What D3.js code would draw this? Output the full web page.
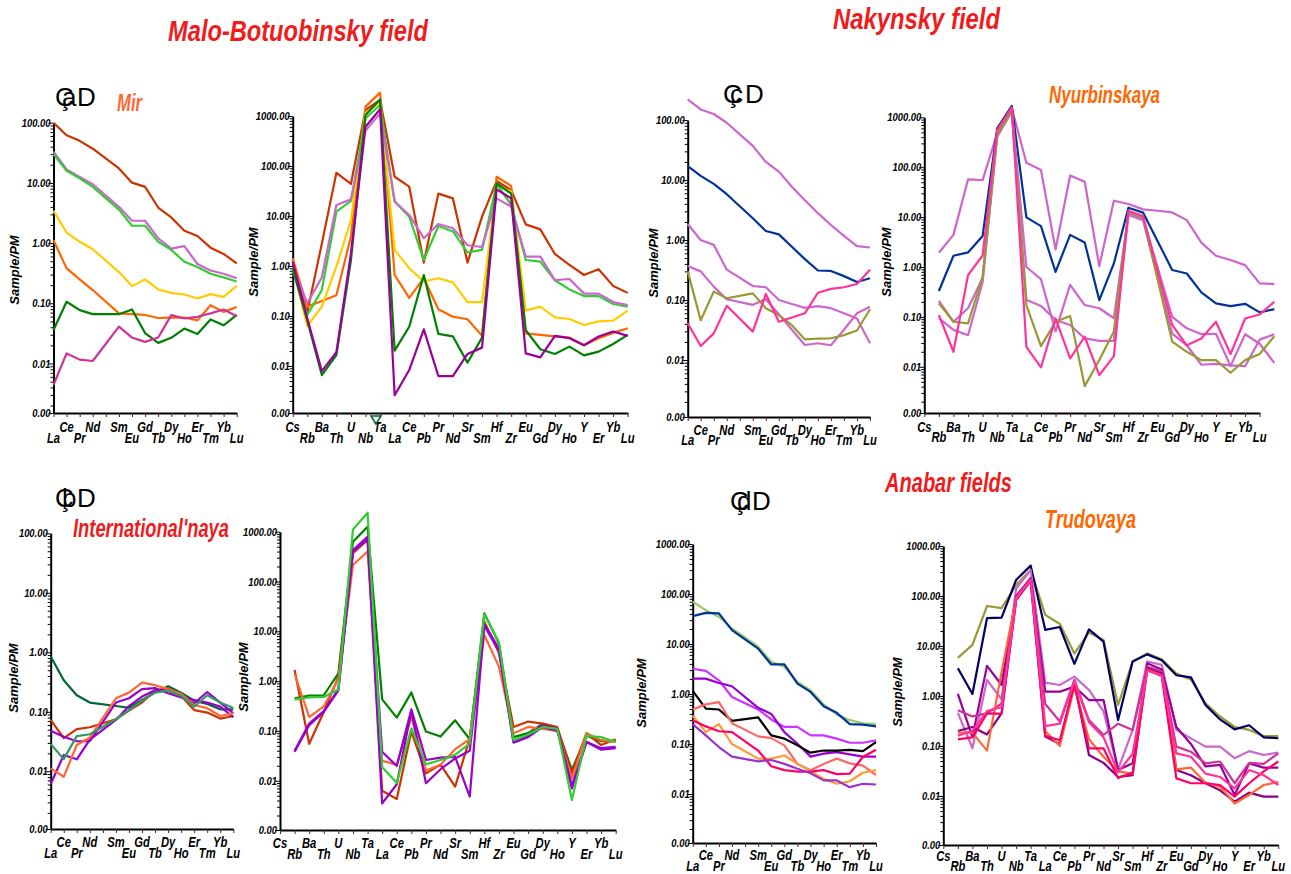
<!DOCTYPE html>
<html>
<head>
<meta charset="utf-8">
<script src="https://cdn.jsdelivr.net/npm/d3@7"></script>
<style>
  body { margin: 0; background: #fff; }
  svg text { font-family: 'Liberation Sans', Arial, sans-serif; font-weight: bold; font-style: italic; }
</style>
</head>
<body>
<svg id="chart" width="1291" height="874"></svg>
<script>
// ---- categories / tick labels ----
var reeLabels = ['La', 'Ce', 'Pr', 'Nd', '', 'Sm', 'Eu', 'Gd', 'Tb', 'Dy', 'Ho', 'Er', 'Tm', 'Yb', 'Lu'];
var spiderLabels = ['Cs', 'Rb', 'Ba', 'Th', 'U', 'Nb', 'Ta', 'La', 'Ce', 'Pb', 'Pr', 'Nd', 'Sr', 'Sm',
                    'Hf', 'Zr', 'Eu', 'Gd', 'Dy', 'Ho', 'Y', 'Er', 'Yb', 'Lu'];

// ---- Mir (Malo-Botuobinsky field), REE, sample/PM ----
var mirReeColors = ['#cc3300', '#cc66cc', '#33cc33', '#ffcc00', '#ff6600', '#008000', '#cc3399'];
var mirReeSeries = [
  [100, 62, 50, 37, null, 17.4, 10.1, 8.6, 3.9, 2.67, 1.6, 1.31, 0.84, 0.66, 0.46],
  [33, 16.7, 12.6, 9.5, null, 4.0, 2.35, 2.35, 1.2, 0.81, 0.89, 0.45, 0.35, 0.31, 0.26],
  [30, 15.9, 11.9, 8.6, null, 3.6, 1.94, 1.94, 1.05, 0.77, 0.49, 0.40, 0.31, 0.27, 0.23],
  [3.44, 1.49, 1.05, 0.79, null, 0.33, 0.193, 0.249, 0.17, 0.149, 0.14, 0.12, 0.142, 0.128, 0.195],
  [1.12, 0.38, 0.25, 0.166, null, 0.068, 0.066, 0.064, 0.057, 0.058, 0.058, 0.052, 0.093, 0.072, 0.087],
  [0.036, 0.106, 0.077, 0.066, null, 0.066, 0.079, 0.032, 0.022, 0.0267, 0.038, 0.031, 0.054, 0.043, 0.064],
  [0.0044, 0.0147, 0.0116, 0.011, null, 0.041, 0.027, 0.0229, 0.027, 0.0636, 0.056, 0.0597, 0.068, 0.079, 0.061]
];

// ---- Mir, multi-element ----
var mirSpiderColors = ['#cc3300', '#ff6600', '#ffcc00', '#33cc33', '#cc66cc', '#008000', '#990099'];
var mirSpiderSeries = [
  [1.32, 0.117, 2.8, 73, 44, 1320, 2090, 61, 38.6, 1.17, 28, 22.5, 1.17, 9.7, 50, 33, 6.8, 5.4, 1.74, 1.05, 0.66, 0.86, 0.4, 0.29],
  [1.42, 0.154, 0.2, 0.26, 3.9, 1540, 2930, 0.66, 0.23, 0.57, 0.136, 0.097, 0.086, 0.04, 61, 40, 0.045, 0.042, 0.039, 0.037, 0.026, 0.036, 0.046, 0.057],
  [0.95, 0.063, 0.154, 0.97, 8.3, 1130, 1940, 2.1, 0.9, 0.49, 0.57, 0.47, 0.19, 0.19, 40, 31, 0.128, 0.154, 0.094, 0.087, 0.066, 0.078, 0.081, 0.128],
  [0.83, 0.105, 0.33, 12.2, 20, 900, 1660, 19.4, 9.7, 1.32, 6.3, 4.9, 1.88, 2.1, 44, 16.6, 1.32, 1.22, 0.52, 0.34, 0.25, 0.25, 0.174, 0.154],
  [0.97, 0.18, 0.59, 16.6, 21.5, 510, 1130, 19.4, 10.5, 3.6, 6.9, 5.7, 2.6, 2.4, 22.5, 15.4, 1.54, 1.54, 0.52, 0.55, 0.28, 0.28, 0.19, 0.166],
  [0.9, 0.081, 0.0066, 0.0166, 1.32, 1050, 2150, 0.0203, 0.061, 0.66, 0.044, 0.039, 0.0117, 0.037, 45, 28, 0.052, 0.0216, 0.0174, 0.0244, 0.0163, 0.0194, 0.0275, 0.042],
  [1.22, 0.09, 0.0079, 0.019, 1.8, 610, 1360, 0.0026, 0.0083, 0.054, 0.0063, 0.0063, 0.0174, 0.0233, 34, 22.5, 0.0179, 0.0149, 0.04, 0.036, 0.026, 0.039, 0.049, 0.04]
];

// ---- Nyurbinskaya (Nakynsky field), REE ----
var nyuReeColors = ['#cc66cc', '#003399', '#cc66cc', '#cc66cc', '#999933', '#ff3399'];
var nyuReeSeries = [
  [221, 150, 126, 90, null, 37, 20, 13.8, 7.7, 4.6, 2.8, 1.78, 1.17, 0.79, 0.75],
  [17.1, 11.7, 8.6, 5.8, null, 2.3, 1.41, 1.24, 0.77, 0.48, 0.31, 0.305, 0.25, 0.20, 0.23],
  [1.85, 1.0, 0.83, 0.32, null, 0.171, 0.163, 0.1, 0.086, 0.074, 0.079, 0.073, 0.06, 0.049, 0.019],
  [0.37, 0.30, 0.167, 0.103, null, 0.083, 0.103, 0.058, 0.032, 0.0178, 0.019, 0.0176, 0.032, 0.06, 0.077],
  [0.30, 0.046, 0.138, 0.107, null, 0.129, 0.073, 0.056, 0.038, 0.022, 0.0227, 0.023, 0.026, 0.031, 0.07],
  [0.041, 0.0171, 0.0278, 0.08, null, 0.0297, 0.126, 0.0435, 0.051, 0.06, 0.132, 0.153, 0.163, 0.185, 0.32]
];

// ---- Nyurbinskaya, multi-element (no Cs; one extra point after Lu) ----
var nyuSpiderColors = ['#cc66cc', '#003399', '#cc66cc', '#cc66cc', '#999933', '#ff3399'];
var nyuSpiderSeries = [
  [null, 1.93, 4.4, 57, 55, 477, 1515, 123, 88, 2.25, 68, 51, 1.04, 21.3, 18.3, 14.3, 13.4, 12.4, 8.7, 3.07, 1.68, 1.38, 1.09, 0.47, 0.455],
  [null, 0.33, 1.68, 1.96, 4.2, 601, 1690, 9.9, 6.6, 0.80, 4.4, 3.1, 0.217, 1.18, 15.4, 12.3, 3.3, 0.87, 0.74, 0.31, 0.186, 0.165, 0.183, 0.123, 0.143],
  [null, 0.21, 0.08, 0.149, 0.6, 463, 1400, 1.0, 0.57, 0.051, 0.44, 0.173, 0.149, 0.094, 11.9, 9.4, 0.97, 0.10, 0.059, 0.045, 0.046, 0.0103, 0.045, 0.029, 0.012],
  [null, 0.094, 0.055, 0.043, 0.5, 409, 1300, 0.22, 0.166, 0.087, 0.069, 0.037, 0.033, 0.033, 11.0, 8.7, 0.63, 0.046, 0.027, 0.011, 0.0114, 0.0107, 0.0103, 0.035, 0.045],
  [null, 0.187, 0.080, 0.074, 0.64, 443, 1400, 0.173, 0.026, 0.08, 0.104, 0.0041, 0.0137, 0.051, 12.8, 9.9, 0.56, 0.032, 0.02, 0.0136, 0.0136, 0.0076, 0.0136, 0.018, 0.041],
  [null, 0.109, 0.020, 0.69, 1.7, 557, 1585, 0.025, 0.0097, 0.093, 0.0147, 0.040, 0.0068, 0.0164, 13.4, 10.5, 0.85, 0.069, 0.027, 0.037, 0.080, 0.018, 0.093, 0.112, 0.20]
];

// ---- International'naya, REE ----
var intReeColors = ['#006633', '#cc3300', '#9900cc', '#9900cc', '#ff6633', '#339966'];
var intReeSeries = [
  [0.85, 0.34, 0.19, 0.143, null, 0.125, 0.117, 0.158, 0.21, 0.27, 0.21, 0.154, 0.135, 0.11, 0.11],
  [0.073, 0.036, 0.051, 0.055, null, 0.075, 0.105, 0.143, 0.227, 0.25, 0.185, 0.107, 0.097, 0.077, 0.085],
  [0.048, 0.038, 0.032, 0.032, null, 0.143, 0.169, 0.24, 0.25, 0.205, 0.175, 0.158, 0.143, 0.122, 0.081],
  [0.0061, 0.0188, 0.0159, 0.034, null, 0.073, 0.125, 0.18, 0.23, 0.23, 0.18, 0.139, 0.215, 0.143, 0.094],
  [0.0112, 0.0081, 0.0277, 0.037, null, 0.169, 0.21, 0.31, 0.28, 0.24, 0.2, 0.13, 0.115, 0.085, 0.094],
  [0.0288, 0.016, 0.039, 0.042, null, 0.075, 0.107, 0.154, 0.21, 0.227, 0.185, 0.122, 0.19, 0.143, 0.116]
];

// ---- International'naya, multi-element ----
var intSpiderColors = ['#008000', '#cc3300', '#ff6633', '#9900cc', '#9900cc', '#33cc33'];
var intSpiderSeries = [
  [null, 0.45, 0.51, 0.52, 1.43, 630, 1260, 0.43, 0.185, 0.59, 0.097, 0.077, 0.163, 0.068, 23, 5.7, 0.075, 0.09, 0.14, 0.11, 0.0165, 0.08, 0.062, 0.062],
  [null, 1.67, 0.055, 0.24, 1.23, 370, 680, 0.0063, 0.0043, 0.097, 0.014, 0.021, 0.0076, 0.071, 15.6, 3.7, 0.12, 0.154, 0.14, 0.12, 0.014, 0.09, 0.052, 0.068],
  [null, 1.4, 0.19, 0.31, 1.1, 214, 400, 0.025, 0.021, 0.19, 0.016, 0.021, 0.043, 0.068, 8.4, 1.95, 0.09, 0.12, 0.11, 0.1, 0.011, 0.09, 0.065, 0.06],
  [null, 0.040, 0.14, 0.25, 0.68, 430, 790, 0.038, 0.0197, 0.27, 0.026, 0.029, 0.030, 0.0048, 14, 4.5, 0.06, 0.08, 0.13, 0.11, 0.007, 0.06, 0.045, 0.048],
  [null, 0.038, 0.13, 0.24, 0.65, 400, 700, 0.0035, 0.0085, 0.25, 0.0089, 0.017, 0.028, 0.04, 13, 4, 0.058, 0.075, 0.12, 0.1, 0.008, 0.06, 0.042, 0.045],
  [null, 0.43, 0.47, 0.48, 0.68, 1110, 2400, 0.0186, 0.0091, 0.113, 0.0213, 0.026, 0.033, 0.056, 22, 6, 0.065, 0.085, 0.12, 0.11, 0.0041, 0.08, 0.075, 0.06]
];

// ---- Trudovaya (Anabar fields), REE ----
var truReeColors = ['#99cc66', '#003399', '#cc33ff', '#9900cc', '#000000', '#ff6666', '#ff9933', '#ff0066', '#9933cc'];
var truReeSeries = [
  [70, 47.5, 35, 20.4, null, 8.8, 4.4, 3.5, 1.74, 1.19, 0.62, 0.39, 0.30, 0.26, 0.25],
  [36, 42, 41, 18.9, null, 8.1, 3.9, 3.9, 1.61, 1.1, 0.57, 0.42, 0.25, 0.245, 0.225],
  [3.2, 2.9, 1.88, 0.87, null, 0.49, 0.31, 0.22, 0.22, 0.149, 0.149, 0.128, 0.106, 0.106, 0.118],
  [2.03, 2.03, 1.66, 1.43, null, 0.53, 0.40, 0.173, 0.101, 0.056, 0.064, 0.069, 0.062, 0.056, 0.056],
  [1.15, 0.51, 0.49, 0.29, null, 0.34, 0.149, 0.128, 0.094, 0.067, 0.074, 0.074, 0.076, 0.072, 0.109],
  [0.49, 0.62, 0.69, 0.26, null, 0.142, 0.131, 0.094, 0.04, 0.03, 0.04, 0.051, 0.041, 0.037, 0.024],
  [0.37, 0.173, 0.25, 0.10, null, 0.051, 0.051, 0.059, 0.04, 0.029, 0.020, 0.016, 0.018, 0.0266, 0.030],
  [0.30, 0.225, 0.18, 0.173, null, 0.074, 0.036, 0.030, 0.028, 0.028, 0.030, 0.025, 0.0256, 0.055, 0.077],
  [0.25, 0.149, 0.087, 0.056, null, 0.045, 0.048, 0.040, 0.032, 0.026, 0.0187, 0.0187, 0.0137, 0.016, 0.0155]
];

// ---- Trudovaya, multi-element ----
var truSpiderColors = ['#999933', '#000066', '#cc66cc', '#990099', '#cc3399', '#880088', '#ff6633', '#ff0066', '#ff3399'];
var truSpiderSeries = [
  [null, 5.8, 10.5, 63, 57, 166, 331, 42, 27.5, 7.1, 18.5, 13.2, 0.66, 4.9, 7.1, 5.4, 2.8, 2.15, 0.71, 0.39, 0.24, 0.21, 0.158, 0.158],
  [null, 3.6, 1.1, 36, 37, 209, 405, 21, 24, 4.4, 21.5, 12.2, 0.33, 4.9, 6.8, 5.2, 2.6, 2.36, 0.66, 0.34, 0.215, 0.26, 0.149, 0.143],
  [null, 0.46, 0.09, 2.1, 0.86, 140, 330, 1.85, 1.66, 2.44, 1.32, 0.49, 0.034, 0.21, 4.9, 4.2, 0.21, 0.142, 0.097, 0.097, 0.057, 0.079, 0.066, 0.074],
  [null, 1.1, 0.15, 4.0, 1.66, 100, 230, 1.22, 1.22, 1.54, 0.83, 0.83, 0.033, 0.045, 4.5, 3.4, 0.24, 0.11, 0.039, 0.042, 0.0105, 0.045, 0.037, 0.037],
  [null, 0.52, 0.39, 0.45, 0.71, 95, 220, 0.69, 0.31, 2.1, 0.33, 0.166, 0.28, 0.21, 3.9, 3.1, 0.097, 0.077, 0.045, 0.049, 0.018, 0.046, 0.044, 0.071],
  [null, 0.20, 0.24, 0.17, 0.45, 85, 200, 0.154, 0.11, 1.85, 0.066, 0.046, 0.024, 0.026, 3.6, 2.8, 0.033, 0.026, 0.018, 0.013, 0.0077, 0.0117, 0.0097, 0.0097],
  [null, 0.185, 0.185, 0.081, 3.0, 90, 200, 0.2, 0.1, 1.54, 0.136, 0.061, 0.031, 0.028, 3.4, 2.6, 0.034, 0.037, 0.0185, 0.0154, 0.0071, 0.0105, 0.0166, 0.019],
  [null, 0.136, 0.149, 0.45, 0.44, 83, 209, 0.16, 0.13, 1.7, 0.09, 0.09, 0.023, 0.029, 3.3, 2.5, 0.0225, 0.018, 0.018, 0.0166, 0.0097, 0.018, 0.031, 0.049],
  [null, 0.16, 0.2, 0.5, 0.6, 90, 210, 0.25, 0.28, 2.0, 0.3, 0.15, 0.03, 0.07, 3.2, 2.6, 0.071, 0.061, 0.028, 0.024, 0.0142, 0.033, 0.026, 0.0166]
];

var svg = d3.select('#chart');
svg.append('rect').attr('width', 1291).attr('height', 874).attr('fill', '#fff');

var fmt2 = d3.format('.2f');

// condensed bold italic text (the figure uses a narrow face); squeeze horizontally
function ntext(parent, x, y, txt, size, anchor, sx) {
  return parent.append('text')
    .attr('transform', 'translate(' + x + ',' + y + ') scale(' + (sx || 0.8) + ',1)')
    .attr('text-anchor', anchor || 'middle')
    .attr('font-size', size)
    .attr('fill', '#000')
    .text(txt);
}

function drawPanel(p) {
  var g = svg.append('g');
  var n = p.labels.length;
  var x = d3.scaleLinear().domain([0, n - 1]).range([p.x0, p.x1]);
  var logTop = Math.log10(p.top);
  var yMin = Math.pow(10, logTop - (p.bottom - p.yTop) / p.dec);
  var y = d3.scaleLog().domain([yMin, p.top]).range([p.bottom, p.yTop]);

  var majors = [yMin];
  for (var e = -2; e <= logTop; e++) majors.push(Math.pow(10, e));
  var minors = [];
  for (var e2 = Math.floor(Math.log10(yMin)); e2 < logTop; e2++) {
    for (var k = 2; k < 10; k++) {
      var v = k * Math.pow(10, e2);
      if (v > yMin && v < p.top) minors.push(v);
    }
  }

  g.append('g')
    .attr('transform', 'translate(' + p.x0 + ',0)')
    .call(d3.axisLeft(y).tickValues(minors).tickSize(3).tickSizeOuter(0).tickFormat(''))
    .call(function(s) { s.select('.domain').remove(); s.selectAll('line').attr('stroke', '#000'); });

  var ya = g.append('g')
    .attr('transform', 'translate(' + p.x0 + ',0)')
    .call(d3.axisLeft(y).tickValues(majors).tickSize(5).tickSizeOuter(0).tickFormat(''));
  ya.select('.domain').attr('stroke', '#000').attr('stroke-width', 2);
  ya.selectAll('line').attr('stroke', '#000');

  majors.forEach(function(m) {
    ntext(g, p.x0 - 3, y(m) + 4, m === yMin ? '0.00' : fmt2(m), 11.5, 'end', 0.82);
  });

  var xa = g.append('g')
    .attr('transform', 'translate(0,' + p.bottom + ')')
    .call(d3.axisBottom(x).tickValues(d3.range(n)).tickSize(4).tickSizeOuter(0).tickFormat(''));
  xa.select('.domain').attr('stroke', '#000').attr('stroke-width', 2);
  xa.selectAll('line').attr('stroke', '#552222');

  // staggered element names
  p.labels.forEach(function(lab, i) {
    if (!lab) return;
    var low = (i % 2 === 0) === p.evenLow;
    ntext(g, x(i), p.bottom + (low ? p.rowLow : p.rowHigh), lab, 14, 'middle', 0.8);
  });

  g.append('text')
    .attr('transform', 'translate(' + p.labX + ',' + p.labY + ') rotate(-90)')
    .attr('text-anchor', 'middle')
    .attr('font-size', 13)
    .attr('fill', '#000')
    .text('Sample/PM');

  var line = d3.line()
    .x(function(d) { return x(d[0]); })
    .y(function(d) { return y(d[1]); });

  p.series.forEach(function(s, j) {
    var pts = [];
    s.forEach(function(v, i) { if (v != null) pts.push([i, v]); });
    g.append('path')
      .attr('d', line(pts))
      .attr('fill', 'none')
      .attr('stroke', p.colors[j])
      .attr('stroke-width', 2.2)
      .attr('stroke-linejoin', 'round');
  });
}

drawPanel({ labels: reeLabels, series: mirReeSeries, colors: mirReeColors, evenLow: true,
  x0: 53.5, x1: 236.7, top: 100, yTop: 122.7, dec: 60.2, bottom: 413,
  rowHigh: 19, rowLow: 30, labX: 19, labY: 270 });
drawPanel({ labels: spiderLabels, series: mirSpiderSeries, colors: mirSpiderColors, evenLow: false,
  x0: 292.7, x1: 627.7, top: 1000, yTop: 116, dec: 50, bottom: 413,
  rowHigh: 19, rowLow: 30, labX: 258, labY: 262 });
drawPanel({ labels: reeLabels, series: nyuReeSeries, colors: nyuReeColors, evenLow: true,
  x0: 687.7, x1: 870, top: 100, yTop: 120, dec: 60, bottom: 417,
  rowHigh: 18, rowLow: 28, labX: 658, labY: 263 });
drawPanel({ labels: spiderLabels, series: nyuSpiderSeries, colors: nyuSpiderColors, evenLow: false,
  x0: 924.3, x1: 1259.7, top: 1000, yTop: 117.3, dec: 49.9, bottom: 413,
  rowHigh: 19, rowLow: 29, labX: 891, labY: 262 });
drawPanel({ labels: reeLabels, series: intReeSeries, colors: intReeColors, evenLow: true,
  x0: 50.7, x1: 233.3, top: 100, yTop: 533.3, dec: 59.5, bottom: 829,
  rowHigh: 18, rowLow: 29, labX: 18, labY: 678 });
drawPanel({ labels: spiderLabels, series: intSpiderSeries, colors: intSpiderColors, evenLow: false,
  x0: 280, x1: 615.7, top: 1000, yTop: 531.7, dec: 49.8, bottom: 830,
  rowHigh: 18, rowLow: 29, labX: 248, labY: 677 });
drawPanel({ labels: reeLabels, series: truReeSeries, colors: truReeColors, evenLow: true,
  x0: 692.7, x1: 876, top: 1000, yTop: 544, dec: 50, bottom: 843,
  rowHigh: 17, rowLow: 28, labX: 646, labY: 693 });
drawPanel({ labels: spiderLabels, series: truSpiderSeries, colors: truSpiderColors, evenLow: false,
  x0: 943.3, x1: 1278.3, top: 1000, yTop: 546, dec: 50, bottom: 845,
  rowHigh: 16, rowLow: 26, labX: 902, labY: 692 });

// green marker under Ta in the Mir multi-element plot
svg.append('path')
  .attr('d', 'M371,416 L381,416 L376,424 Z')
  .attr('fill', 'none')
  .attr('stroke', '#006633')
  .attr('stroke-width', 1.5);

// titles: squeezed to the width they take in the figure
function title(txt, x0, x1, y, size, color) {
  var t = svg.append('text')
    .attr('text-anchor', 'middle')
    .attr('font-size', size)
    .attr('fill', color)
    .text(txt);
  var w = t.node().getComputedTextLength();
  t.attr('transform', 'translate(' + ((x0 + x1) / 2) + ',' + y + ') scale(' + ((x1 - x0) / w) + ',1)');
}
title('Malo-Botuobinsky field', 168, 428, 41, 29, '#ee1c1c');
title('Nakynsky field', 833, 1000, 29, 29, '#ee1c1c');
title('Anabar fields', 885, 1012, 492, 27, '#ee1c1c');
title('Mir', 117, 142, 111, 24, '#ff6633');
title('Nyurbinskaya', 1049, 1160, 103, 24, '#ff6600');
title("International'naya", 73, 229, 537, 25, '#ee1c1c');
title('Trudovaya', 1045, 1136, 528, 25, '#ff6600');

// garbled panel letters (font substitution in the source figure)
function garbled(x, y, letter) {
  var t = svg.append('text')
    .attr('x', x).attr('y', y)
    .attr('font-size', 26)
    .style('font-weight', 'normal')
    .style('font-style', 'normal')
    .attr('fill', '#000');
  t.append('tspan').text('Ç');
  t.append('tspan').attr('x', x + 7).text(letter);
  t.append('tspan').attr('x', x + 22).text('D');
}
garbled(55, 106, 'a');
garbled(723, 103, 'c');
garbled(55, 507, 'b');
garbled(730, 510, 'd');
</script>
</body>
</html>
